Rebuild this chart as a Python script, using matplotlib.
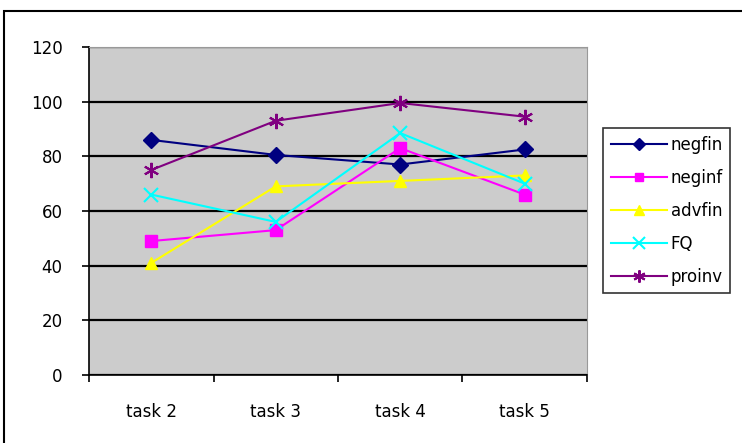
import matplotlib.pyplot as plt
from matplotlib.patches import Rectangle

# Scores per task
tasks  = ['task 2', 'task 3', 'task 4', 'task 5']
negfin = [86, 80.5, 77, 82.5]
neginf = [49, 53, 83, 66]
advfin = [41, 69, 71, 73]
fq     = [66, 56, 88.5, 70]
proinv = [75, 93, 99.5, 94.5]

series = [
    ('negfin', negfin, '#000080', 'D', 8),
    ('neginf', neginf, '#FF00FF', 's', 8),
    ('advfin', advfin, '#FFFF00', '^', 9),
    ('FQ',     fq,     '#00FFFF', 'x', 10),
    ('proinv', proinv, '#800080', (6, 2, 0), 11),
]

plt.rcParams['font.family'] = 'DejaVu Sans'
fig = plt.figure(figsize=(7.42, 4.43), dpi=100)
ax = fig.add_axes([0.12, 0.1535, 0.671, 0.7405])
ax.set_facecolor('#CCCCCC')

x = [i + 0.5 for i in range(len(tasks))]
for name, vals, color, marker, ms in series:
    ax.plot(x, vals, color=color, linewidth=1.5, marker=marker, markersize=ms,
            markeredgewidth=1.5 if marker in ('x', (6, 2, 0)) else 1,
            markeredgecolor=color, markerfacecolor=color, label=name, zorder=3)

ax.set_xlim(0, len(tasks))
ax.set_ylim(0, 120)
ax.set_yticks(range(0, 121, 20))
ax.set_xticks(range(len(tasks) + 1))
ax.set_xticklabels([])
ax.set_xticks(x, minor=True)
ax.set_xticklabels(tasks, minor=True)
ax.tick_params(axis='x', which='minor', length=0, pad=20, labelsize=12)
ax.tick_params(axis='x', which='major', length=5, width=1.2, direction='out')
ax.tick_params(axis='y', length=5, width=1.2, direction='out', labelsize=12, pad=14)

ax.yaxis.grid(True, color='black', linewidth=1.6)
ax.set_axisbelow(True)
for side in ('top', 'right'):
    ax.spines[side].set_color('#999999')
for side in ('left', 'bottom'):
    ax.spines[side].set_color('black')
    ax.spines[side].set_linewidth(1.2)

leg = ax.legend(loc='upper left', bbox_to_anchor=(0.8127, 0.711),
                bbox_transform=fig.transFigure, borderaxespad=0,
                fontsize=12, frameon=True, fancybox=False, handlelength=3.4,
                handletextpad=0.2, labelspacing=0.9, borderpad=0.45,
                markerscale=0.8)
leg.get_frame().set_edgecolor('black')
leg.get_frame().set_linewidth(1.2)

# outer chart frame
fig.add_artist(Rectangle((4 / 742, -0.05), 1.0, (443 - 11) / 443 + 0.05,
                         transform=fig.transFigure, fill=False,
                         edgecolor='black', linewidth=1.5, clip_on=False))

fig.savefig('out.png', dpi=100, facecolor='white')
